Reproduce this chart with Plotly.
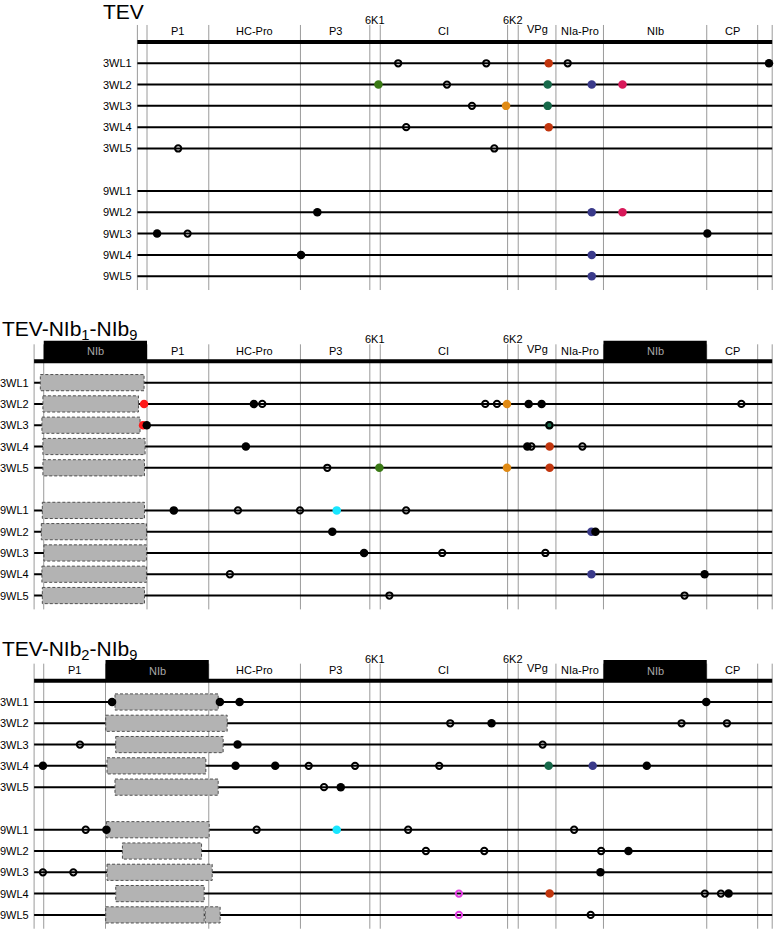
import plotly.graph_objects as go

# TEV genome map (nt), 5'->3'
GENE_NAMES = ["5'UTR", "P1", "HC-Pro", "P3", "6K1", "CI", "6K2", "VPg",
              "NIa-Pro", "NIb", "CP", "3'UTR"]
GENE_LENGTHS = [144, 924, 1371, 1038, 156, 1905, 159, 564, 711, 1545, 762, 217]

# gene order of each construct (NIb copies are drawn as black boxes)
CONSTRUCTS = ["TEV", "TEV-NIb<sub>1</sub>-NIb<sub>9</sub>", "TEV-NIb<sub>2</sub>-NIb<sub>9</sub>"]
ORDER_TEV = GENE_NAMES
ORDER_NIB1 = ["5'UTR", "NIb*", "P1", "HC-Pro", "P3", "6K1", "CI", "6K2", "VPg",
              "NIa-Pro", "NIb*", "CP", "3'UTR"]
ORDER_NIB2 = ["5'UTR", "P1", "NIb*", "HC-Pro", "P3", "6K1", "CI", "6K2", "VPg",
              "NIa-Pro", "NIb*", "CP", "3'UTR"]

LINEAGES = ["3WL1", "3WL2", "3WL3", "3WL4", "3WL5",
            "9WL1", "9WL2", "9WL3", "9WL4", "9WL5"]
ROW_SLOTS = [1, 2, 3, 4, 5, 7, 8, 9, 10, 11]

# mutations: (position in construct, type)
# s = synonymous (open), n = non-synonymous (black), A..I = shared/convergent sites
MUT_TEV = {
    "3WL1": [(3901, "s"), (5219, "s"), (6153, "A"), (6437, "s"), (9448, "n")],
    "3WL2": [(3606, "C"), (4631, "s"), (6138, "B"), (6797, "E"), (7257, "F")],
    "3WL3": [(5005, "s"), (5515, "D"), (6138, "B")],
    "3WL4": [(4021, "s"), (6153, "A")],
    "3WL5": [(610, "s"), (5339, "s")],
    "9WL1": [],
    "9WL2": [(2692, "n"), (6797, "E"), (7257, "F")],
    "9WL3": [(295, "n"), (751, "s"), (8526, "n")],
    "9WL4": [(2448, "n"), (6797, "E")],
    "9WL5": [(6797, "E")],
}
MUT_NIB1 = {
    "3WL1": [],
    "3WL2": [(1645, "G"), (3288, "n"), (3413, "s"), (6749, "s"), (6924, "s"),
             (7074, "D"), (7398, "n"), (7592, "n"), (10580, "s")],
    "3WL3": [(1630, "G"), (1685, "n"), (7708, "B"), (7708, "s")],
    "3WL4": [(3168, "n"), (7378, "n"), (7438, "s"), (7712, "A"), (8202, "s")],
    "3WL5": [(4386, "s"), (5165, "C"), (7074, "D"), (7712, "A")],
    "9WL1": [(2090, "n"), (3049, "s"), (3977, "s"), (4527, "H"), (5565, "s")],
    "9WL2": [(4461, "n"), (8337, "E"), (8397, "n")],
    "9WL3": [(4936, "n"), (6105, "s"), (7648, "s")],
    "9WL4": [(2929, "s"), (8337, "E"), (10030, "n")],
    "9WL5": [(5315, "s"), (9730, "s")],
}
MUT_NIB2 = {
    "3WL1": [(1166, "n"), (2779, "n"), (3074, "n"), (10055, "n")],
    "3WL2": [(6225, "s"), (6843, "n"), (9685, "s"), (10364, "s")],
    "3WL3": [(686, "s"), (3044, "n"), (7607, "s")],
    "3WL4": [(132, "n"), (3014, "n"), (3607, "n"), (4108, "s"), (4801, "s"),
             (6060, "s"), (7697, "B"), (8356, "E"), (9165, "n")],
    "3WL5": [(4337, "s"), (4587, "n")],
    "9WL1": [(772, "s"), (1082, "n"), (3329, "s"), (4527, "H"), (5595, "s"), (8078, "s")],
    "9WL2": [(5861, "s"), (6734, "s"), (8482, "s"), (8891, "n")],
    "9WL3": [(132, "s"), (587, "s"), (8472, "n")],
    "9WL4": [(6355, "I"), (7712, "A"), (10034, "s"), (10274, "s"), (10389, "n")],
    "9WL5": [(6355, "I"), (8326, "s")],
}

# deletions (start, end) in construct coordinates
DEL_TEV = {}
DEL_NIB1 = {
    "3WL1": [(93, 1645)], "3WL2": [(132, 1561)], "3WL3": [(117, 1585)],
    "3WL4": [(132, 1660)], "3WL5": [(132, 1651)], "9WL1": [(123, 1651)],
    "9WL2": [(108, 1681)], "9WL3": [(147, 1681)], "9WL4": [(117, 1681)],
    "9WL5": [(123, 1651)],
}
DEL_NIB2 = {
    "3WL1": [(1210, 2754)], "3WL2": [(1071, 2888)], "3WL3": [(1221, 2828)],
    "3WL4": [(1091, 2569)], "3WL5": [(1210, 2754)], "9WL1": [(1082, 2619)],
    "9WL2": [(1321, 2505)], "9WL3": [(1091, 2664)], "9WL4": [(1221, 2544)],
    "9WL5": [(1071, 2544), (2559, 2783)],
}

PANELS = [
    (CONSTRUCTS[0], ORDER_TEV, MUT_TEV, DEL_TEV),
    (CONSTRUCTS[1], ORDER_NIB1, MUT_NIB1, DEL_NIB1),
    (CONSTRUCTS[2], ORDER_NIB2, MUT_NIB2, DEL_NIB2),
]

CAT_STYLE = {
    "A": dict(color="#c2360e", symbol="circle"),
    "B": dict(color="#17694a", symbol="circle"),
    "C": dict(color="#3a7a15", symbol="circle"),
    "D": dict(color="#e08a14", symbol="circle"),
    "E": dict(color="#3a3a8a", symbol="circle"),
    "F": dict(color="#d8195a", symbol="circle"),
    "G": dict(color="#ff1a1a", symbol="circle"),
    "H": dict(color="#19e6ff", symbol="circle"),
    "n": dict(color="black", symbol="circle"),
    "s": dict(color="black", symbol="circle-open"),
    "I": dict(color="#e03ce0", symbol="circle-open"),
}

gene_len = dict(zip(GENE_NAMES, GENE_LENGTHS))
gene_len["NIb*"] = gene_len["NIb"]
max_len = max(sum(gene_len[g] for g in order) for _, order, _, _ in PANELS)

FONT = "Arial, Liberation Sans, sans-serif"
SLOTS_PER_PANEL = 15
fig = go.Figure()
shapes, annotations = [], []
points = {c: ([], []) for c in CAT_STYLE}

for p, (title, order, muts, dels) in enumerate(PANELS):
    base = p * SLOTS_PER_PANEL
    total = sum(gene_len[g] for g in order)
    shift = max_len - total  # right-align the genomes
    bounds = [shift]
    for g in order:
        bounds.append(bounds[-1] + gene_len[g])

    # gene boundaries
    for b in bounds:
        shapes.append(dict(type="line", x0=b, x1=b, y0=base - 0.8, y1=base + 11.65,
                           line=dict(color="#9a9a9a", width=1), layer="below"))
    # lineage lines
    for slot in ROW_SLOTS:
        shapes.append(dict(type="line", x0=bounds[0], x1=bounds[-1], y0=base + slot,
                           y1=base + slot, line=dict(color="black", width=2), layer="below"))
    # genome bar
    shapes.append(dict(type="line", x0=bounds[0], x1=bounds[-1], y0=base, y1=base,
                       line=dict(color="black", width=4), layer="below"))

    # gene names
    for g, x0, x1 in zip(order, bounds[:-1], bounds[1:]):
        if "UTR" in g:
            continue
        xm = (x0 + x1) / 2
        if g == "NIb*":
            shapes.append(dict(type="rect", x0=x0, x1=x1, y0=base - 0.97, y1=base,
                               fillcolor="black", line=dict(width=0), layer="below"))
            annotations.append(dict(x=xm, y=base - 0.47, text="NIb", showarrow=False,
                                    font=dict(size=11, color="#a8a8a8", family=FONT)))
            continue
        dy = {"6K1": -1.03, "6K2": -1.03, "VPg": -0.6}.get(g, -0.5)
        annotations.append(dict(x=xm, y=base + dy, text=g, showarrow=False,
                                font=dict(size=11, color="black", family=FONT)))

    # deletions
    for lin, slot in zip(LINEAGES, ROW_SLOTS):
        for d0, d1 in dels.get(lin, []):
            shapes.append(dict(type="rect", x0=d0 + shift, x1=d1 + shift,
                               y0=base + slot - 0.38, y1=base + slot + 0.38,
                               fillcolor="#b3b3b3",
                               line=dict(color="#505050", width=1, dash="3px,2px"),
                               layer="below"))
        for pos, cat in muts[lin]:
            points[cat][0].append(pos + shift)
            points[cat][1].append(base + slot)
        annotations.append(dict(x=bounds[0], y=base + slot, text=lin, showarrow=False,
                                xanchor="right", xshift=-3,
                                font=dict(size=11, color="black", family=FONT)))

# panel titles
for p, (title, _, _, _) in enumerate(PANELS):
    x_px = 101 if p == 0 else 0
    annotations.append(dict(xref="paper", yref="paper", x=x_px / 775,
                            y=1 - (11 + p * 319.3) / 930, text=title, showarrow=False,
                            xanchor="left", yanchor="middle",
                            font=dict(size=21, color="black", family=FONT)))

# filled markers first, open ones on top
for cat in ["A", "B", "C", "D", "E", "F", "G", "H", "n", "s", "I"]:
    xs, ys = points[cat]
    st = CAT_STYLE[cat]
    is_open = st["symbol"].endswith("open")
    fig.add_trace(go.Scatter(
        x=xs, y=ys, mode="markers", hoverinfo="skip",
        marker=dict(symbol=st["symbol"], color=st["color"],
                    size=6.3 if is_open else 8.5,
                    line=dict(width=2 if is_open else 0, color=st["color"])),
    ))

PX_PER_NT = 0.06685
X0_PX = 34.1
BAR0_PX, SLOT_PX = 42, 21.29
fig.update_layout(
    width=775, height=930,
    margin=dict(l=0, r=0, t=0, b=0),
    paper_bgcolor="white", plot_bgcolor="white",
    showlegend=False,
    shapes=shapes, annotations=annotations,
    xaxis=dict(range=[-X0_PX / PX_PER_NT, (775 - X0_PX) / PX_PER_NT],
               visible=False, fixedrange=True),
    yaxis=dict(range=[(930 - BAR0_PX) / SLOT_PX, -BAR0_PX / SLOT_PX],
               visible=False, fixedrange=True),
)

# page body margin would push the 775x930 figure off the window
fig.write_html("out.html", config={"displayModeBar": False},
               post_script="document.body.style.margin = '0';")
